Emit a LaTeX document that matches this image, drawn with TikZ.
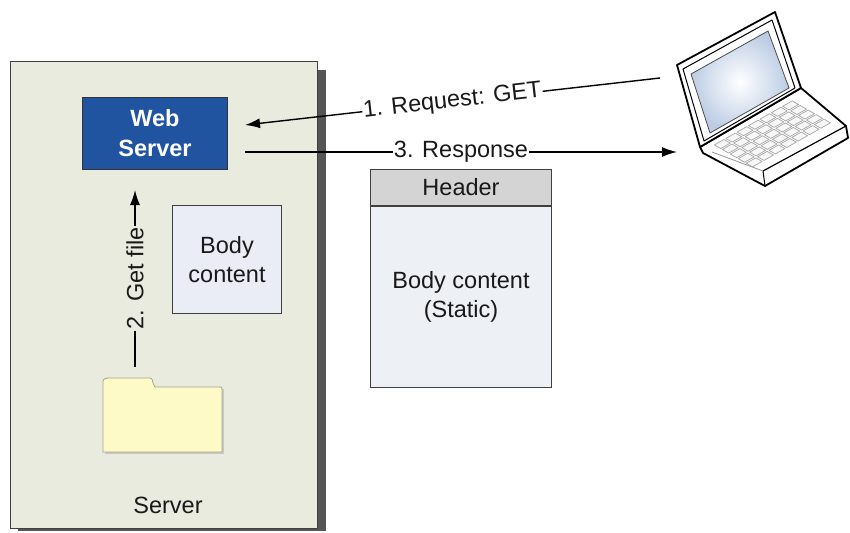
\documentclass[tikz,border=0pt]{standalone}
\usepackage{fontspec}
\setmainfont{Liberation Sans}
\usetikzlibrary{arrows.meta}

\definecolor{serverfill}{RGB}{232,235,222}
\definecolor{shadowgray}{RGB}{85,85,85}
\definecolor{webblue}{RGB}{33,84,160}
\definecolor{boxfill}{RGB}{234,237,246}
\definecolor{headerfill}{RGB}{212,212,212}
\definecolor{respfill}{RGB}{237,240,245}
\definecolor{folderfill}{RGB}{253,250,200}
\definecolor{folderline}{RGB}{165,165,135}
\definecolor{screenblue}{RGB}{188,204,228}

\begin{document}
\begin{tikzpicture}[x=1pt,y=-1pt,
  txt/.style={font=\fontsize{23.5}{29}\selectfont, text=black!90, align=center},
  arr/.style={line width=1.4pt, -{Latex[length=15pt,width=10pt]}},
  lbl/.style={txt, inner sep=1pt, sloped},
  panel/.style={draw=black!75, line width=1pt, anchor=north west, inner sep=0pt},
  keycap/.style={draw=black!35, fill=black!3, line width=0.7pt, line join=round},
]
\useasboundingbox (0,0) rectangle (850,532);

% server cabinet with drop shadow
\fill[shadowgray] (18,70) rectangle (326,531);
\node[panel, fill=serverfill, minimum width=307pt, minimum height=467pt] (srv) at (10,61) {};
\node[txt] (srvname) at (168,505) {Server};

% web server process
\node[panel, draw=black!80, fill=webblue, minimum width=145pt, minimum height=72pt,
      font=\fontsize{23.5}{30}\selectfont\bfseries, text=white, align=center] (ws) at (82,97) {Web\\Server};

% stored body content
\node[panel, fill=boxfill, minimum width=109pt, minimum height=108pt, txt] (stored) at (172,205) {Body\\content};

% folder
\fill[black!22] (105,454) -- (105,389) -- (224,389) -- (224,454) -- cycle;
\draw[folderline, fill=folderfill, line width=0.8pt]
  (103,452) -- (103,384) .. controls (103,379) .. (108,378) -- (147,378)
  .. controls (152,378) .. (153,383) -- (155,387) -- (219,387)
  .. controls (222,387) .. (222,390) -- (222,452) -- cycle;

% response message
\node[panel, fill=headerfill, minimum width=181pt, minimum height=36pt, txt] (hdr) at (370,169) {Header};
\node[panel, fill=respfill, minimum width=181pt, minimum height=181pt, txt] (resp) at (hdr.south west) {Body content\\(Static)};

% laptop: base
\coordinate (lidA) at (677,65);
\coordinate (lidB) at (775,12);
\coordinate (hingeR) at (801,88);
\coordinate (hingeL) at (700,147);
\draw[line width=1.8pt, fill=white, line join=round]
  (hingeL) -- (703,153) -- (765,186) -- (848,138) -- (846,126) -- (hingeR) -- cycle;
\draw[line width=1.2pt] (763,171) -- (846,126);
\draw[line width=1pt] (763,171) -- (765,186);
\draw[black!40, line width=0.8pt] (712,152) -- (763,171);
% keyboard: keys laid out in the skewed plane of the deck
\begin{scope}[shift={(700,147)}, x={(91pt,51.5pt)}, y={(53pt,-30.5pt)}]
  \foreach \r in {0,...,4}
    \foreach \c in {0,...,6}
      \draw[keycap] ({0.1+\c*0.125},{0.1+\r*0.15}) -- ++(0.105,0) -- ++(0,0.12) -- ++(-0.105,0) -- cycle;
\end{scope}
% laptop: lid and screen
\draw[line width=1.8pt, fill=white, line join=round] (lidA) -- (lidB) -- (hingeR) -- (hingeL) -- cycle;
\draw[line width=1pt, line join=round] (683,69) -- (772,20) -- (795,88) -- (704,141) -- cycle;
\shade[inner color=white, outer color=screenblue, draw=black!70, line width=0.8pt]
  (691,74) -- (768,31) -- (789,88) -- (710,133) -- cycle;

% message flow
\coordinate (client) at (660,78);
\coordinate (reqtip) at (245,125);
\coordinate (respstart) at (245,152);
\coordinate (resptip) at (677,152);
\coordinate (filestart) at (135,367);
\coordinate (filetip) at (135,190);

\draw[arr] (client) -- node[lbl, fill=white] {1. Request: GET} (reqtip);
\draw[arr] (respstart) -- node[lbl, fill=white] {3. Response} (resptip);
\draw[arr] (filestart) -- node[lbl, fill=serverfill] {2. Get file} (filetip);
\end{tikzpicture}
\end{document}
